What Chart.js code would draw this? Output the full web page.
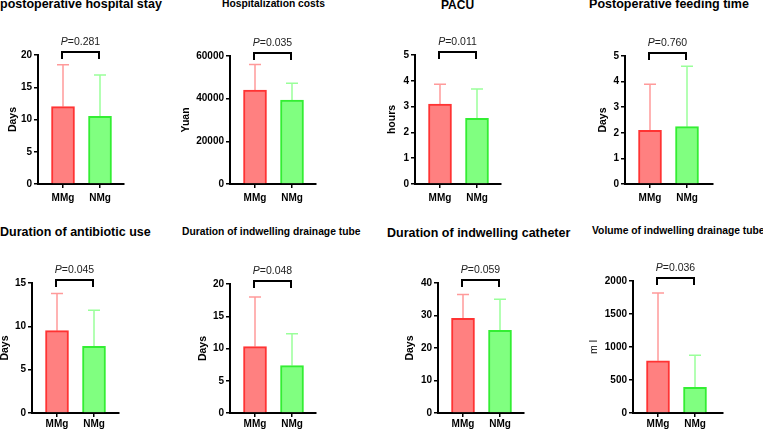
<!DOCTYPE html>
<html>
<head>
<meta charset="utf-8">
<script src="https://cdn.jsdelivr.net/npm/chart.js@4.4.1/dist/chart.umd.min.js"></script>
<style>
  html, body { margin: 0; padding: 0; background: #fff; }
  body { width: 763px; height: 431px; position: relative; overflow: hidden; font-family: "Liberation Sans", Arial, sans-serif; }
  .panel-title { position: absolute; font-weight: bold; line-height: 1; white-space: nowrap; color: #000; }
  canvas { position: absolute; }
</style>
</head>
<body>
<script>
const categories = ['MMg', 'NMg'];
const panelTitles = [
  'postoperative hospital stay', 'Hospitalization costs', 'PACU', 'Postoperative feeding time',
  'Duration of antibiotic use', 'Duration of indwelling drainage tube', 'Duration of indwelling catheter', 'Volume of indwelling drainage tube'
];
const yLabels = ['Days', 'Yuan', 'hours', 'Days', 'Days', 'Days', 'Days', 'm l'];
const mmgMean = [12.0, 44000, 3.1, 2.1, 9.5, 10.3, 29.1, 790];
const mmgSD   = [6.5, 12000, 0.77, 1.8, 4.3, 7.7, 7.4, 1030];
const nmgMean = [10.5, 39300, 2.55, 2.24, 7.7, 7.35, 25.4, 390];
const nmgSD   = [6.4, 7900, 1.13, 2.36, 4.15, 4.95, 9.6, 485];
const pValues = ['0.281', '0.035', '0.011', '0.760', '0.045', '0.048', '0.059', '0.036'];
const yMax  = [20, 60000, 5, 5, 15, 20, 40, 2000];
const yStep = [5, 20000, 1, 1, 5, 5, 10, 500];

// where each panel sits in the 763x431 frame
const layout = [
  { ax: 38,  top: 55,  bot: 184, end: 124, gap: 25, pad: 4, t: { x: 0,     base: 9,     size: 12.5, center: false } },
  { ax: 230, top: 56,  bot: 184, end: 316, gap: 44, pad: 4, t: { x: 273.5, base: 7.5,   size: 10.3, center: true } },
  { ax: 415, top: 55,  bot: 184, end: 501, gap: 23, pad: 4, t: { x: 457.5, base: 9.3,   size: 12,   center: true } },
  { ax: 625, top: 56,  bot: 184, end: 713, gap: 22, pad: 4, t: { x: 669,   base: 9,     size: 12.5, center: true } },
  { ax: 32,  top: 283, bot: 413, end: 119, gap: 27, pad: 1, t: { x: 0,     base: 236.5, size: 12.5, center: false } },
  { ax: 230, top: 284, bot: 413, end: 316, gap: 27, pad: 1, t: { x: 182,   base: 235.5, size: 10.3, center: false } },
  { ax: 438, top: 283, bot: 413, end: 524, gap: 28, pad: 1, t: { x: 387,   base: 237.5, size: 12.5, center: false } },
  { ax: 633, top: 281, bot: 413, end: 723, gap: 39, pad: 1, t: { x: 592,   base: 235,   size: 10.3, center: false } }
];

const FONT = '"Liberation Sans", Arial, sans-serif';
const fills = ['#ff8080', '#80ff80'];
const borders = ['#ff3333', '#33ee33'];
const whiskers = ['#ff9a9a', '#9aff9a'];

const LEFT = 60, TOPPAD = 28, RIGHT = 12, XAXIS_H = 32, UNIT = 37;

// upward SD whiskers, drawn behind the bars
const errorBars = {
  id: 'errorBars',
  beforeDatasetsDraw(chart, args, opts) {
    const { ctx } = chart;
    const xs = chart.scales.x, ys = chart.scales.y;
    ctx.save();
    ctx.lineWidth = 1.5;
    opts.means.forEach((m, i) => {
      const px = xs.getPixelForValue(i);
      const y0 = ys.getPixelForValue(m), y1 = ys.getPixelForValue(m + opts.sds[i]);
      ctx.strokeStyle = whiskers[i];
      ctx.beginPath();
      ctx.moveTo(px, y0); ctx.lineTo(px, y1);
      ctx.moveTo(px - 6, y1); ctx.lineTo(px + 6, y1);
      ctx.stroke();
    });
    ctx.restore();
  }
};

// significance bracket + P value
const bracket = {
  id: 'bracket',
  afterDraw(chart, args, opts) {
    const { ctx, chartArea } = chart;
    const xs = chart.scales.x;
    const x0 = xs.getPixelForValue(0) - 1, x1 = xs.getPixelForValue(1) - 1;
    const yTop = chartArea.top - 3;
    ctx.save();
    ctx.strokeStyle = '#000';
    ctx.lineWidth = 2;
    ctx.beginPath();
    ctx.moveTo(x0, chartArea.top + 4); ctx.lineTo(x0, yTop); ctx.lineTo(x1, yTop); ctx.lineTo(x1, chartArea.top + 4);
    ctx.stroke();

    const rest = '=' + opts.p;
    ctx.fillStyle = '#222';
    ctx.textBaseline = 'middle';
    ctx.font = 'italic 10.5px ' + FONT;
    const wP = ctx.measureText('P').width;
    ctx.font = '10.5px ' + FONT;
    const wR = ctx.measureText(rest).width;
    const start = (x0 + x1) / 2 - (wP + wR) / 2;
    const ty = chartArea.top - 13;
    ctx.font = 'italic 10.5px ' + FONT;
    ctx.fillText('P', start, ty);
    ctx.font = '10.5px ' + FONT;
    ctx.fillText(rest, start + wP, ty);
    ctx.restore();
  }
};

layout.forEach((L, i) => {
  // title
  const t = document.createElement('div');
  t.className = 'panel-title';
  t.textContent = panelTitles[i];
  t.style.fontSize = L.t.size + 'px';
  t.style.top = (L.t.base - 0.8465 * L.t.size) + 'px';
  t.style.left = L.t.x + 'px';
  if (L.t.center) t.style.transform = 'translateX(-50%)';
  document.body.appendChild(t);

  // canvas
  const w = L.end - L.ax;
  const cv = document.createElement('canvas');
  cv.width = LEFT + w + RIGHT;
  cv.height = TOPPAD + (L.bot - L.top) + XAXIS_H;
  cv.style.left = (L.ax - LEFT) + 'px';
  cv.style.top = (L.top - TOPPAD) + 'px';
  document.body.appendChild(cv);

  const yTitleSize = 10.5;
  const xMin = -25 / UNIT;
  const xMax = xMin + w / UNIT;

  new Chart(cv.getContext('2d'), {
    type: 'bar',
    data: {
      datasets: [{
        data: categories.map((c, k) => ({ x: k, y: k === 0 ? mmgMean[i] : nmgMean[i] })),
        backgroundColor: fills,
        borderColor: borders,
        borderWidth: 2,
        borderSkipped: 'bottom',
        barThickness: 23
      }]
    },
    options: {
      responsive: false,
      animation: false,
      layout: { padding: { left: 0, top: TOPPAD, right: RIGHT, bottom: 0 } },
      plugins: {
        legend: { display: false },
        tooltip: { enabled: false },
        errorBars: { means: [mmgMean[i], nmgMean[i]], sds: [mmgSD[i], nmgSD[i]] },
        bracket: { p: pValues[i] }
      },
      scales: {
        x: {
          type: 'linear',
          min: xMin, max: xMax,
          offset: false,
          afterBuildTicks: s => { s.ticks = categories.map((c, k) => ({ value: k })); },
          afterFit: s => { s.height = XAXIS_H; },
          ticks: {
            callback: v => categories[v],
            font: { family: FONT, size: 10, weight: 'bold' },
            color: '#000', padding: L.pad, maxRotation: 0, autoSkip: false
          },
          grid: { display: true, drawOnChartArea: false, drawTicks: true, tickLength: 4, color: '#000', lineWidth: 1.5, offset: false },
          border: { display: true, color: '#000', width: 2 }
        },
        y: {
          min: 0, max: yMax[i],
          afterFit: s => { s.width = LEFT; },
          ticks: {
            stepSize: yStep[i],
            callback: v => String(v),
            font: { family: FONT, size: 10, weight: 'bold' },
            color: '#000', padding: 2
          },
          grid: { display: true, drawOnChartArea: false, drawTicks: true, tickLength: 4, color: '#000', lineWidth: 1.5 },
          border: { display: true, color: '#000', width: 2 },
          title: {
            display: true,
            text: yLabels[i],
            color: '#000',
            font: { family: FONT, size: yTitleSize, weight: yLabels[i] === 'm l' ? 'normal' : 'bold' },
            padding: { top: LEFT - L.gap - yTitleSize * 0.6, bottom: 0 }
          }
        }
      }
    },
    plugins: [errorBars, bracket]
  });
});
</script>
</body>
</html>
